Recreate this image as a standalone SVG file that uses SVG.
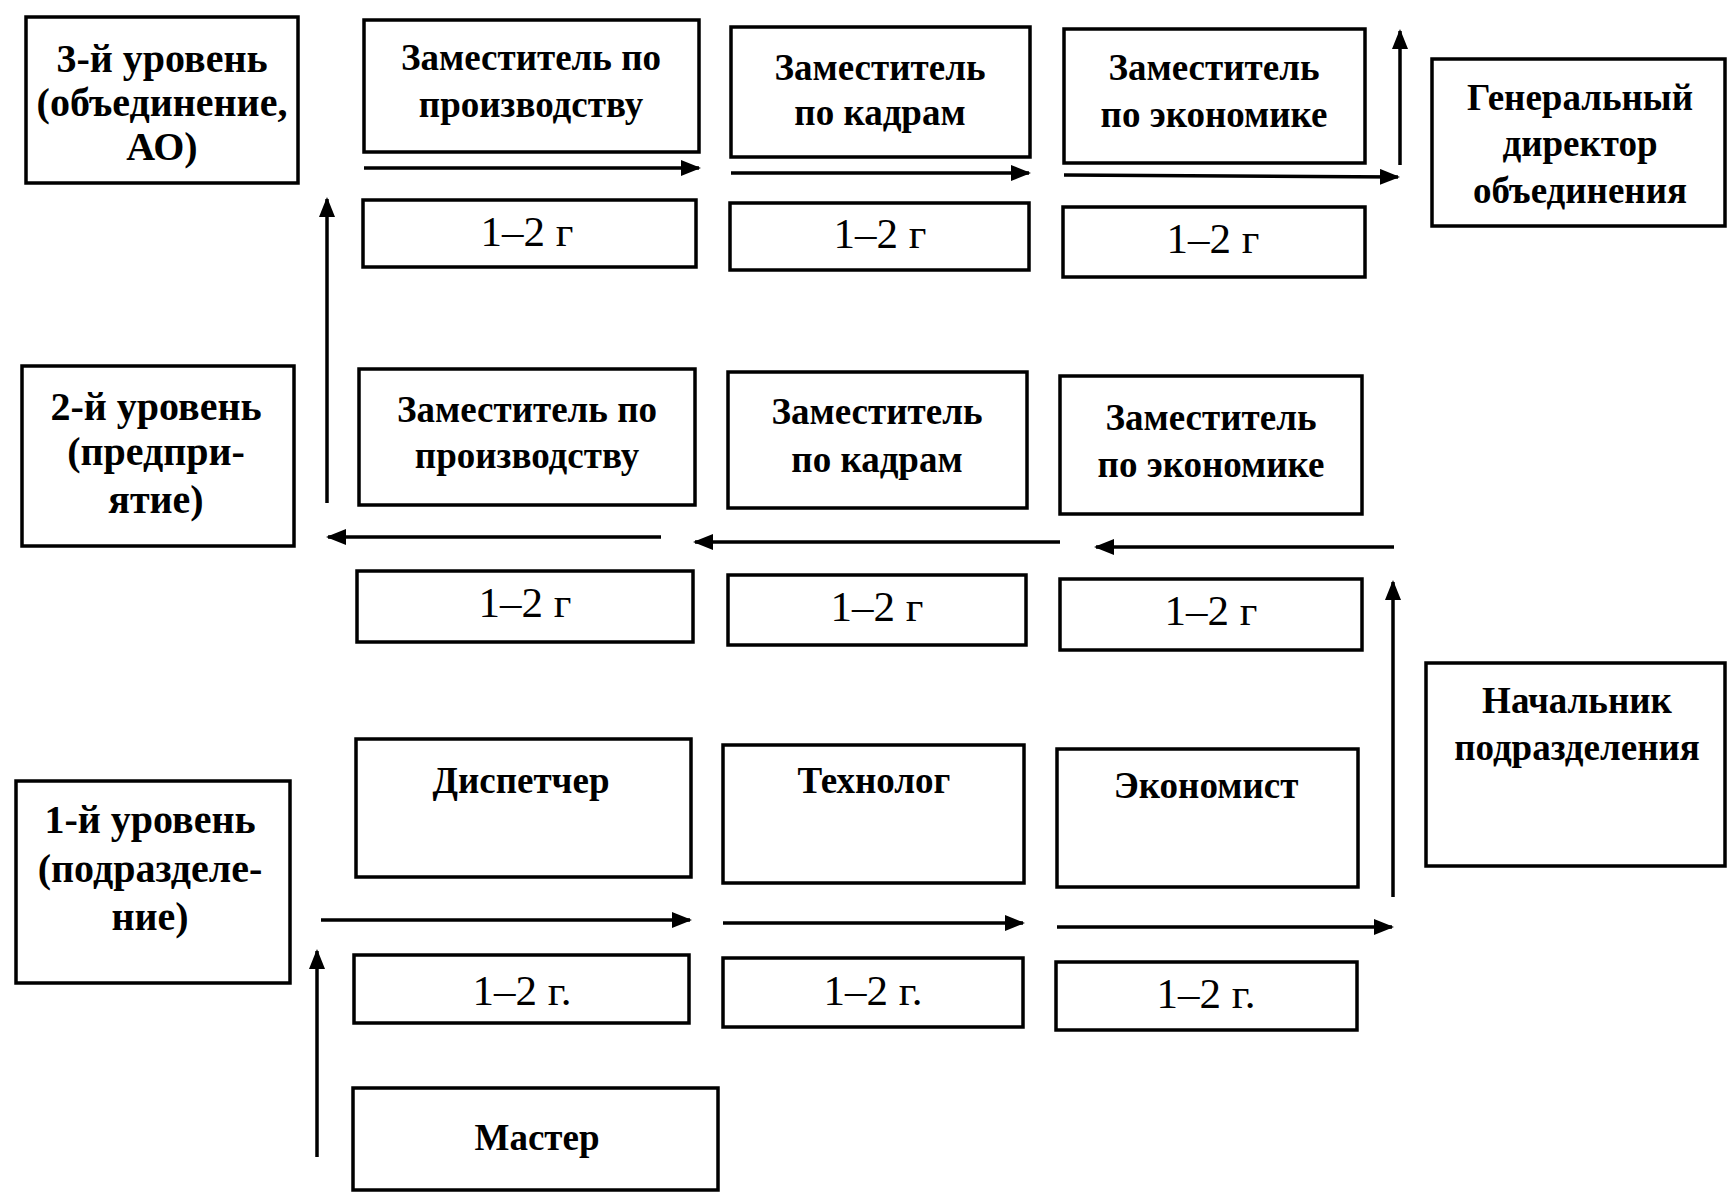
<svg xmlns="http://www.w3.org/2000/svg" width="1727" height="1194" viewBox="0 0 1727 1194">
<defs>
<marker id="ah" viewBox="0 0 20 16" refX="18" refY="8" markerWidth="20" markerHeight="16" markerUnits="userSpaceOnUse" orient="auto">
<path d="M0,0 L20,8 L0,16 Z" fill="#000"/>
</marker>
<style>
.b{fill:#fff;stroke:#000;stroke-width:3.5}
.t{font-family:"Liberation Serif","Times New Roman",serif;font-weight:bold;font-size:37px;fill:#000;text-anchor:middle}
.l{font-family:"Liberation Serif","Times New Roman",serif;font-weight:bold;font-size:40px;fill:#000;text-anchor:middle}
.y{font-family:"Liberation Serif","Times New Roman",serif;font-size:43px;fill:#000;text-anchor:middle}
.c{stroke:#000;stroke-width:3.5;fill:none;marker-end:url(#ah)}
</style>
</defs>
<rect width="1727" height="1194" fill="#fff"/>

<g id="level3"><rect class="b" x="26" y="17" width="272" height="166"/>
<text class="l" x="162" y="72">3-й уровень</text><text class="l" x="162" y="116">(объединение,</text><text class="l" x="162" y="160">АО)</text></g>
<g id="l3-prod"><rect class="b" x="364" y="20" width="335" height="132"/>
<text class="t" x="531" y="70">Заместитель по</text><text class="t" x="531" y="117">производству</text></g>
<g id="l3-kadr"><rect class="b" x="731" y="27" width="299" height="130"/>
<text class="t" x="880" y="80">Заместитель</text><text class="t" x="880" y="125">по кадрам</text></g>
<g id="l3-econ"><rect class="b" x="1064" y="29" width="301" height="134"/>
<text class="t" x="1214" y="80">Заместитель</text><text class="t" x="1214" y="127">по экономике</text></g>
<g id="gendir"><rect class="b" x="1432" y="59" width="293" height="167"/>
<text class="t" x="1580" y="110">Генеральный</text><text class="t" x="1580" y="156">директор</text><text class="t" x="1580" y="203">объединения</text></g>
<g id="l3-y1"><rect class="b" x="363" y="200" width="333" height="67"/><text class="y" x="527" y="246">1–2 г</text></g>
<g id="l3-y2"><rect class="b" x="730" y="203" width="299" height="67"/><text class="y" x="880" y="248">1–2 г</text></g>
<g id="l3-y3"><rect class="b" x="1063" y="207" width="302" height="70"/><text class="y" x="1213" y="253">1–2 г</text></g>

<g id="level2"><rect class="b" x="22" y="366" width="272" height="180"/>
<text class="l" x="156" y="420">2-й уровень</text><text class="l" x="156" y="465">(предпри-</text><text class="l" x="156" y="513">ятие)</text></g>
<g id="l2-prod"><rect class="b" x="359" y="369" width="336" height="136"/>
<text class="t" x="527" y="422">Заместитель по</text><text class="t" x="527" y="468">производству</text></g>
<g id="l2-kadr"><rect class="b" x="728" y="372" width="299" height="136"/>
<text class="t" x="877" y="424">Заместитель</text><text class="t" x="877" y="472">по кадрам</text></g>
<g id="l2-econ"><rect class="b" x="1060" y="376" width="302" height="138"/>
<text class="t" x="1211" y="430">Заместитель</text><text class="t" x="1211" y="477">по экономике</text></g>
<g id="l2-y1"><rect class="b" x="357" y="571" width="336" height="71"/><text class="y" x="525" y="617">1–2 г</text></g>
<g id="l2-y2"><rect class="b" x="728" y="575" width="298" height="70"/><text class="y" x="877" y="621">1–2 г</text></g>
<g id="l2-y3"><rect class="b" x="1060" y="579" width="302" height="71"/><text class="y" x="1211" y="625">1–2 г</text></g>

<g id="chief"><rect class="b" x="1426" y="663" width="299" height="203"/>
<text class="t" x="1577" y="713">Начальник</text><text class="t" x="1577" y="760">подразделения</text></g>

<g id="level1"><rect class="b" x="16" y="781" width="274" height="202"/>
<text class="l" x="150" y="833">1-й уровень</text><text class="l" x="150" y="882">(подразделе-</text><text class="l" x="150" y="930">ние)</text></g>
<g id="disp"><rect class="b" x="356" y="739" width="335" height="138"/><text class="t" x="521" y="793">Диспетчер</text></g>
<g id="tech"><rect class="b" x="723" y="745" width="301" height="138"/><text class="t" x="874" y="793">Технолог</text></g>
<g id="econ"><rect class="b" x="1057" y="749" width="301" height="138"/><text class="t" x="1206" y="798">Экономист</text></g>
<g id="l1-y1"><rect class="b" x="354" y="955" width="335" height="68"/><text class="y" x="522" y="1005">1–2 г.</text></g>
<g id="l1-y2"><rect class="b" x="723" y="958" width="300" height="69"/><text class="y" x="873" y="1005">1–2 г.</text></g>
<g id="l1-y3"><rect class="b" x="1056" y="962" width="301" height="68"/><text class="y" x="1206" y="1008">1–2 г.</text></g>
<g id="master"><rect class="b" x="353" y="1088" width="365" height="102"/><text class="t" x="537" y="1150">Мастер</text></g>

<g id="connectors">
<line class="c" x1="317" y1="1157" x2="317" y2="951"/>
<line class="c" x1="321" y1="920" x2="690" y2="920"/>
<line class="c" x1="723" y1="923" x2="1023" y2="923"/>
<line class="c" x1="1057" y1="927" x2="1392" y2="927"/>
<line class="c" x1="1393" y1="897" x2="1393" y2="582"/>
<line class="c" x1="1394" y1="547" x2="1096" y2="547"/>
<line class="c" x1="1060" y1="542" x2="695" y2="542"/>
<line class="c" x1="661" y1="537" x2="328" y2="537"/>
<line class="c" x1="327" y1="503" x2="327" y2="199"/>
<line class="c" x1="364" y1="168" x2="699" y2="168"/>
<line class="c" x1="731" y1="173" x2="1029" y2="173"/>
<line class="c" x1="1064" y1="175" x2="1398" y2="177"/>
<line class="c" x1="1400" y1="165" x2="1400" y2="31"/>
</g>
</svg>
